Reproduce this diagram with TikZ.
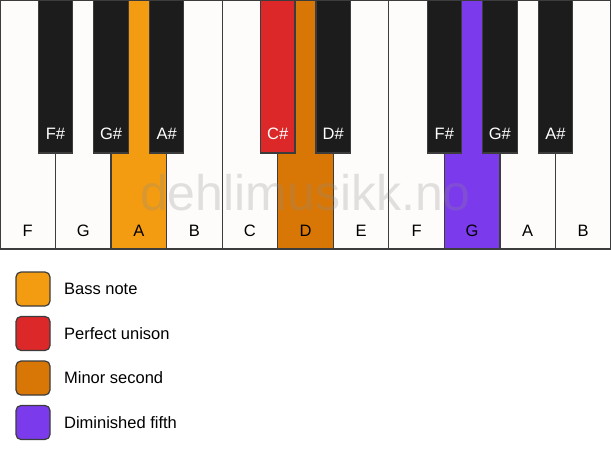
\documentclass[tikz,border=0pt]{standalone}
\usepackage{fontspec}
\setmainfont{Liberation Sans}
\usetikzlibrary{positioning}
\definecolor{keywhite}{HTML}{FDFCFA}
\definecolor{keyblack}{HTML}{1C1C1C}
\definecolor{keyline}{HTML}{3C3C3C}
\definecolor{bass}{HTML}{F39C12}
\definecolor{unison}{HTML}{DC2828}
\definecolor{minsecond}{HTML}{D97706}
\definecolor{dimfifth}{HTML}{7C3AED}
\tikzset{
  whitekey/.style={draw=keyline,line width=1.2pt,minimum width=55.545pt,minimum height=249pt,inner sep=0pt},
  blackkey/.style={draw=keyline,line width=1.2pt,minimum width=34.5pt,minimum height=153pt,inner sep=0pt},
  keylabel/.style={font=\fontsize{16.5}{18}\selectfont},
  swatch/.style={draw=keyline,line width=1.2pt,rounded corners=5pt,minimum size=34pt,inner sep=0pt},
}
\begin{document}
\begin{tikzpicture}[x=1pt,y=-1pt]
			\useasboundingbox[fill=white] (0,0) rectangle (611,461);
			%White keys
			\foreach \n/\c [count=\i from 0] in {F/keywhite,G/keywhite,A/bass,B/keywhite,C/keywhite,D/minsecond,E/keywhite,F/keywhite,G/dimfifth,A/keywhite,B/keywhite}
				{
					\node[whitekey,fill=\c] (w\i) at (\i*55.545+27.77,124.5) {};
					\node[keylabel] (lw\i) at ([yshift=19pt]w\i.south) {\n};
				}
			%Watermark
			\node[font=\fontsize{50}{54}\selectfont,text=black!45,opacity=0.25] (mark) at (305.5,193) {dehlimusikk.no};
			%Black keys
			\foreach \n/\c/\b in {F\#/keyblack/1,G\#/keyblack/2,A\#/keyblack/3,C\#/unison/5,D\#/keyblack/6,F\#/keyblack/8,G\#/keyblack/9,A\#/keyblack/10}
				{
					\node[blackkey,fill=\c] (b\b) at (\b*55.545,76.5) {};
					\node[keylabel,text=white] (lb\b) at ([yshift=20pt]b\b.south) {\n};
				}
			%Legend
			\node[swatch,fill=bass] (sw1) at (33,289) {};
			\node[swatch,fill=unison,below=9.3pt of sw1] (sw2) {};
			\node[swatch,fill=minsecond,below=9.3pt of sw2] (sw3) {};
			\node[swatch,fill=dimfifth,below=9.3pt of sw3] (sw4) {};
			\node[keylabel,right=10pt of sw1] (t1) {Bass note};
			\node[keylabel,right=10pt of sw2] (t2) {Perfect unison};
			\node[keylabel,right=10pt of sw3] (t3) {Minor second};
			\node[keylabel,right=10pt of sw4] (t4) {Diminished fifth};
		\end{tikzpicture}
\end{document}
